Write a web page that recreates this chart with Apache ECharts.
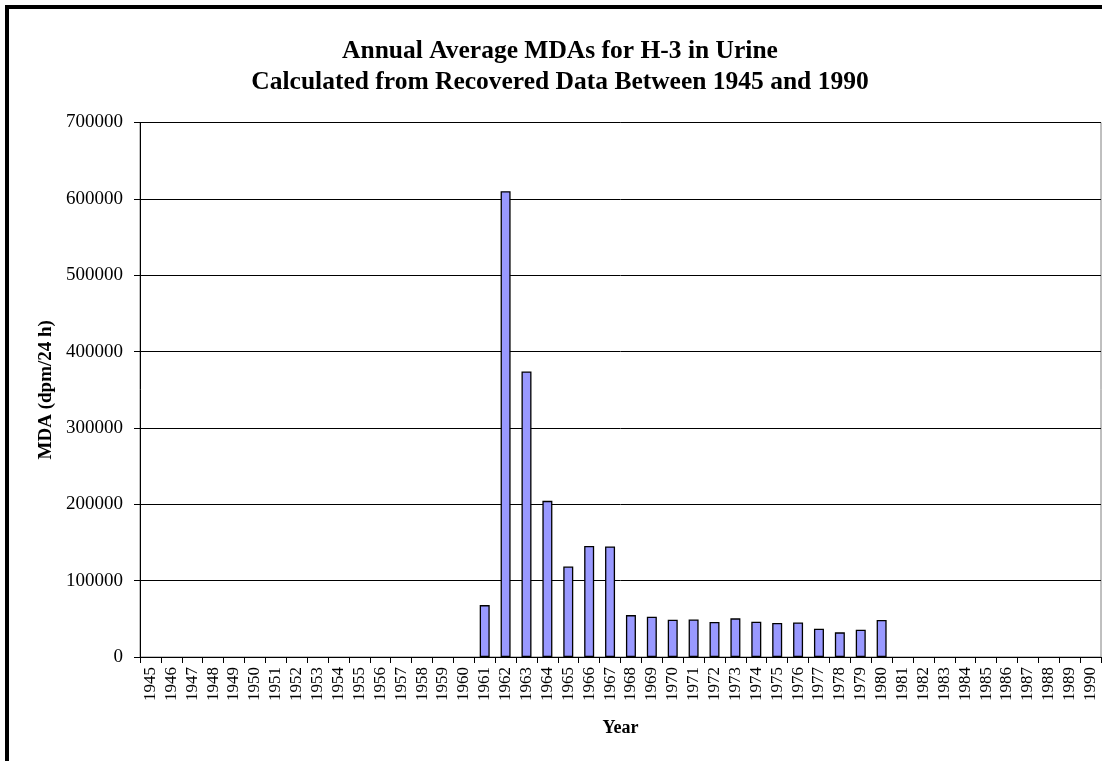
<!DOCTYPE html>
<html>
<head>
<meta charset="utf-8">
<script src="https://cdn.jsdelivr.net/npm/echarts@6/dist/echarts.min.js"></script>
<style>
html,body{margin:0;padding:0;background:#fff;}
#frame{position:absolute;left:5px;top:5px;width:1097px;height:756px;border-left:4px solid #000;border-top:4px solid #000;box-sizing:border-box;pointer-events:none;z-index:2;}
#chart{position:absolute;left:0;top:0;width:1102px;height:761px;}
</style>
</head>
<body>
<div id="chart"></div>
<div id="frame"></div>
<script>
const years = ['1945','1946','1947','1948','1949','1950','1951','1952','1953','1954','1955','1956','1957','1958','1959','1960','1961','1962','1963','1964','1965','1966','1967','1968','1969','1970','1971','1972','1973','1974','1975','1976','1977','1978','1979','1980','1981','1982','1983','1984','1985','1986','1987','1988','1989','1990'];
const mdaValues = [null,null,null,null,null,null,null,null,null,null,null,null,null,null,null,null,
  68000,610000,374000,204500,118500,145500,144800,54900,52800,48800,49200,45800,50600,46200,44500,45300,37000,32300,35800,48400,
  null,null,null,null,null,null,null,null,null,null];
const yTicks = {min:0, max:700000, interval:100000};
const titleLines = ['Annual Average MDAs for H-3 in Urine','Calculated from Recovered Data Between 1945 and 1990'];
const yName = 'MDA (dpm/24 h)';
const xName = 'Year';

const serif = '"Liberation Serif","Times New Roman",serif';
const chart = echarts.init(document.getElementById('chart'));
chart.setOption({
  backgroundColor:'#fff',
  animation:false,
  title:{
    text:titleLines.join('\n'),
    left:555, top:31, textAlign:'center',
    textStyle:{fontFamily:serif,fontWeight:'bold',fontSize:25.5,color:'#000',lineHeight:31}
  },
  grid:{left:140,top:122.5,right:1,bottom:104,show:true,borderColor:'#808080',borderWidth:1,backgroundColor:'transparent'},
  xAxis:{
    type:'category',
    data:years,
    name:xName,
    nameLocation:'middle',
    nameGap:62,
    nameTextStyle:{fontFamily:serif,fontWeight:'bold',fontSize:18,color:'#000'},
    axisLine:{lineStyle:{color:'#000',width:1}},
    axisTick:{show:true,interval:0,length:6,lineStyle:{color:'#000'}},
    axisLabel:{interval:0,rotate:90,fontFamily:serif,fontSize:17,color:'#000',margin:10}
  },
  yAxis:{
    type:'value',
    min:yTicks.min,max:yTicks.max,interval:yTicks.interval,
    name:yName,
    nameLocation:'middle',
    nameGap:83,
    nameRotate:90,
    nameTextStyle:{fontFamily:serif,fontWeight:'bold',fontSize:19,color:'#000'},
    axisLine:{show:true,lineStyle:{color:'#000',width:1}},
    axisTick:{show:true,length:6,lineStyle:{color:'#000'}},
    axisLabel:{fontFamily:serif,fontSize:19,color:'#000',margin:17,formatter:function(v){return String(v);}},
    splitLine:{show:true,lineStyle:{color:'#000',width:1}}
  },
  series:[{
    type:'bar',
    data:mdaValues,
    barWidth:10,
    itemStyle:{color:'#9999FF',borderColor:'#000',borderWidth:1.3}
  }]
});
</script>
</body>
</html>
